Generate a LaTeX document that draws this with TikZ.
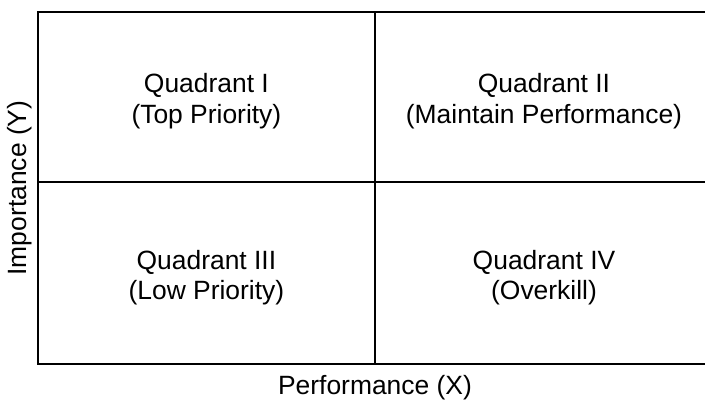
\documentclass[tikz,border=0pt]{standalone}
\usepackage{fontspec}
\setmainfont{Liberation Sans}
\usetikzlibrary{positioning}

\begin{document}
\begin{tikzpicture}[line width=1.5pt,
    quadtext/.style={align=center,font=\fontsize{18.8}{21.5}\selectfont},
    axistext/.style={inner sep=1pt,font=\fontsize{18.8}{21.5}\selectfont}]
  %% Page frame (the grid runs past the right edge)
  \useasboundingbox (0,0) rectangle (17.625,-10);

  %% Grid corners and midpoints
  \coordinate (tl) at (0.95,-0.3);
  \coordinate (br) at (17.8,-9.1);
  \coordinate (mt) at (9.375,-0.3);
  \coordinate (mb) at (9.375,-9.1);
  \coordinate (ml) at (0.95,-4.55);
  \coordinate (mr) at (17.8,-4.55);

  %% Outer box and dividers
  \draw (tl) rectangle (br);
  \draw (mt) -- (mb);
  \draw (ml) -- (mr);

  %% Quadrant labels
  \node[quadtext] (q1) at (5.16,-2.53) {Quadrant I\\(Top Priority)};
  \node[quadtext] (q2) at (13.6,-2.53) {Quadrant II\\(Maintain Performance)};
  \node[quadtext] (q3) at (5.16,-6.95) {Quadrant III\\(Low Priority)};
  \node[quadtext] (q4) at (13.6,-6.95) {Quadrant IV\\(Overkill)};

  %% Axis titles
  \node[axistext] (xlabel) at (9.375,-9.68) {Performance (X)};
  \node[axistext,rotate=90] (ylabel) at (0.5,-4.7) {Importance (Y)};
\end{tikzpicture}
\end{document}
